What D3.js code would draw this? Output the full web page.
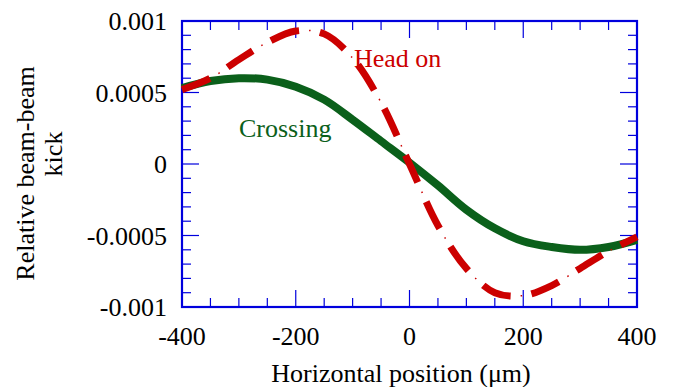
<!DOCTYPE html>
<html>
<head>
<meta charset="utf-8">
<script src="https://cdn.jsdelivr.net/npm/d3@7"></script>
<style>
  body { margin: 0; background: #fff; }
</style>
</head>
<body>
<div id="chart"></div>
<script>
// horizontal position in um
const positions = [-400, -350, -300, -250, -200, -150, -100, -50, 0, 50, 100, 150, 200, 250, 300, 350, 400];
const headOn = [0.00052, 0.0006, 0.00073, 0.00085, 0.00093, 0.00091, 0.00074, 0.00043, 0.0,
                -0.00043, -0.00073, -0.0009, -0.00092, -0.00085, -0.00073, -0.00061, -0.00051];
const crossing = [0.00053, 0.00058, 0.0006, 0.00059, 0.00054, 0.00045, 0.00031, 0.00016, 0.00001,
                  -0.00015, -0.00032, -0.00045, -0.00054, -0.00058, -0.0006, -0.00058, -0.00053];
const xTicks = [-400, -200, 0, 200, 400];
const yTicks = [0.001, 0.0005, 0, -0.0005, -0.001];
const yTickLabels = ["0.001", "0.0005", "0", "-0.0005", "-0.001"];

const W = 673, H = 387;
const margin = {top: 21, right: 36, bottom: 80, left: 182};
const width = W - margin.left - margin.right;
const height = H - margin.top - margin.bottom;
const blue = "#0000dd";
const red = "#cc0000";
const green = "#0b601b";
const font = "Liberation Serif";
// the serif face only gets picked at smaller sizes here
const fontSize = 26;

const svg = d3.select("#chart")
    .append("svg")
    .attr("width", W)
    .attr("height", H);

const g = svg.append("g")
    .attr("transform", `translate(${margin.left},${margin.top})`);

const xScale = d3.scaleLinear().domain([-400, 400]).range([0, width]);
const yScale = d3.scaleLinear().domain([-0.001, 0.001]).range([height, 0]);

// ticks on all four sides, pointing inward
const xMinor = d3.range(-400, 401, 50);
const yMinor = d3.range(-10, 11).map(d => d * 0.0001);
const majLen = 17, minLen = 9;

function isMajorX(v) { return xTicks.includes(v); }
function isMajorY(v) { return yTicks.some(t => Math.abs(t - v) < 1e-9); }

const ticks = g.append("g").attr("stroke", blue).attr("stroke-width", 1.2);
xMinor.forEach(v => {
    const len = isMajorX(v) ? majLen : minLen;
    const x = xScale(v);
    ticks.append("line").attr("x1", x).attr("x2", x).attr("y1", height).attr("y2", height - len);
    ticks.append("line").attr("x1", x).attr("x2", x).attr("y1", 0).attr("y2", len);
});
yMinor.forEach(v => {
    const len = isMajorY(v) ? majLen : minLen;
    const y = yScale(v);
    ticks.append("line").attr("x1", 0).attr("x2", len).attr("y1", y).attr("y2", y);
    ticks.append("line").attr("x1", width).attr("x2", width - len).attr("y1", y).attr("y2", y);
});

g.append("rect")
    .attr("x", 0).attr("y", 0)
    .attr("width", width).attr("height", height)
    .attr("fill", "none")
    .attr("stroke", blue)
    .attr("stroke-width", 2.2);

// tick labels
g.selectAll(".xlab")
    .data(xTicks)
    .enter()
    .append("text")
    .attr("x", d => xScale(d))
    .attr("y", height + 38)
    .attr("text-anchor", "middle")
    .attr("font-family", font)
    .attr("font-size", fontSize)
    .text(d => d);

g.selectAll(".ylab")
    .data(yTicks)
    .enter()
    .append("text")
    .attr("x", -15)
    .attr("y", d => yScale(d) + 9)
    .attr("text-anchor", "end")
    .attr("font-family", font)
    .attr("font-size", fontSize)
    .text((d, i) => yTickLabels[i]);

// curves
const lineGenerator = d3.line()
    .x(d => xScale(d[0]))
    .y(d => yScale(d[1]))
    .curve(d3.curveCatmullRom.alpha(0.5));

const crossPts = positions.map((p, i) => [p, crossing[i]]);
const headPts = positions.map((p, i) => [p, headOn[i]]);

g.append("path")
    .datum(crossPts)
    .attr("fill", "none")
    .attr("stroke", green)
    .attr("stroke-width", 8)
    .attr("d", lineGenerator);

g.append("path")
    .datum(headPts)
    .attr("fill", "none")
    .attr("stroke", red)
    .attr("stroke-width", 7)
    .attr("stroke-dasharray", "30,21")
    .attr("d", lineGenerator);

g.append("path")
    .datum(headPts)
    .attr("fill", "none")
    .attr("stroke", red)
    .attr("stroke-width", 1.5)
    .attr("stroke-dasharray", "1.5,49.5")
    .attr("stroke-dashoffset", 11)
    .attr("d", lineGenerator);

function label(x, y, txt, color, anchor, rotate) {
    const t = svg.append("text")
        .attr("font-family", font)
        .attr("font-size", fontSize)
        .attr("fill", color)
        .attr("text-anchor", anchor)
        .text(txt);
    if (rotate) t.attr("transform", `translate(${x},${y}) rotate(-90)`);
    else t.attr("x", x).attr("y", y);
}

// curve labels
label(354, 67, "Head on", red, "start", false);
label(239, 137, "Crossing", green, "start", false);

// axis titles
label(401, 382, "Horizontal position (\u03bcm)", "#000", "middle", false);
label(34, 173.5, "Relative beam-beam", "#000", "middle", true);
label(62, 154, "kick", "#000", "middle", true);
</script>
</body>
</html>
